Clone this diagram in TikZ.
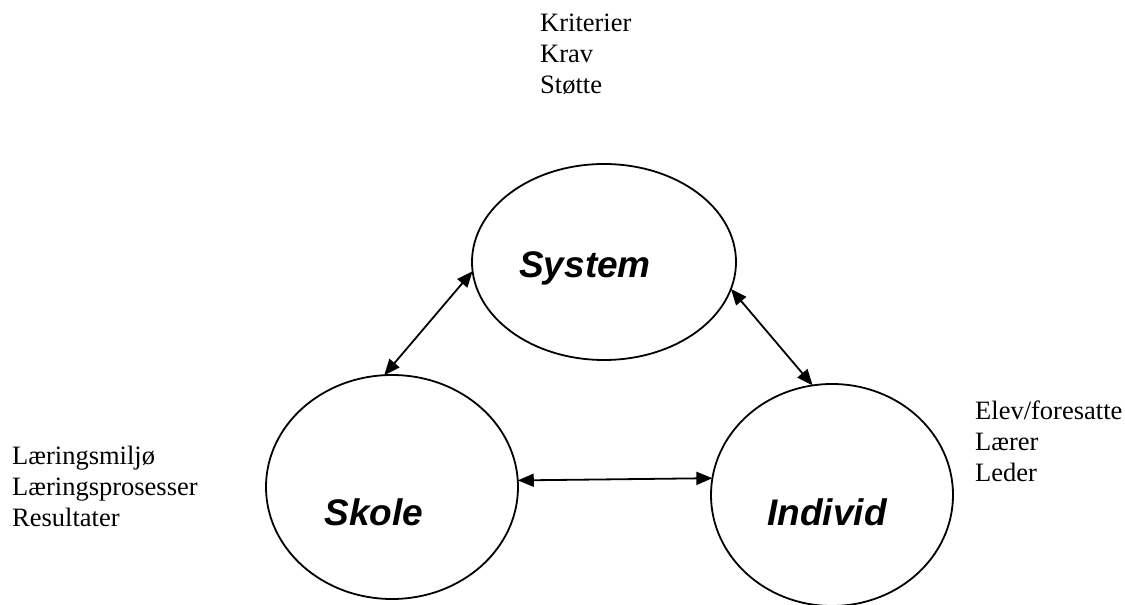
\documentclass[tikz,border=0pt]{standalone}
\usepackage{fontspec}
\setmainfont{Liberation Serif}
\newfontfamily\labelfont{Liberation Sans}
\usetikzlibrary{shapes.geometric,arrows.meta}
\tikzset{
  circ/.style={ellipse, draw, line width=1.8pt, inner sep=0pt, outer sep=0pt},
  biglabel/.style={font=\labelfont\fontsize{37}{44}\selectfont\bfseries\itshape, inner sep=0pt},
  listline/.style={font=\fontsize{26.5}{31}\selectfont, inner sep=0pt, anchor=base west},
  conn/.style={line width=1.8pt, {Triangle[length=16pt,width=13pt]}-{Triangle[length=16pt,width=13pt]}}
}
\begin{document}
\begin{tikzpicture}[x=1pt,y=1pt]
\useasboundingbox (0,0) rectangle (1125,605);
\node[circ, minimum width=264pt, minimum height=196pt] (sys) at (604,343) {};
\node[circ, minimum width=252pt, minimum height=224pt] (sko) at (392,118) {};
\node[circ, minimum width=242pt, minimum height=222pt] (ind) at (832,110) {};
\node[biglabel] (systxt) at (585,337) {System};
\node[biglabel] (skotxt) at (374,93) {Skole};
\node[biglabel] (indtxt) at (827,93) {Individ};
\node[listline] (top1) at (540,573) {Kriterier};
\node[listline] (top2) at (540,542) {Krav};
\node[listline] (top3) at (540,511) {Støtte};
\node[listline] (left1) at (12,140) {Læringsmiljø};
\node[listline] (left2) at (12,109) {Læringsprosesser};
\node[listline] (left3) at (12,78) {Resultater};
\node[listline] (right1) at (975,185) {Elev/foresatte};
\node[listline] (right2) at (975,154) {Lærer};
\node[listline] (right3) at (975,123) {Leder};
\draw[conn] (sys.184.8) -- (sko.94.5);
\draw[conn] (sys.348.9) -- (ind.100.1);
\draw[conn] (sko.3.2) -- (ind.172.9);
\end{tikzpicture}
\end{document}
